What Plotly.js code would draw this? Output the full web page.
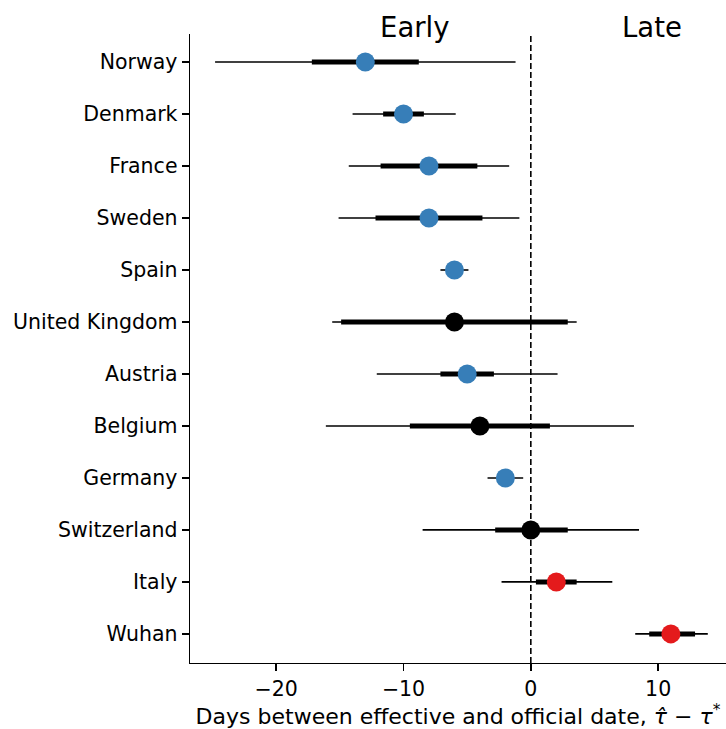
<!DOCTYPE html>
<html>
<head>
<meta charset="utf-8">
<script src="https://cdn.plot.ly/plotly-3.0.1.min.js"></script>
<style>html,body{margin:0;padding:0;background:#fff;}#chart{width:726px;height:729px;}</style>
</head>
<body>
<div id="chart"></div>
<script>
const countries = ['Norway','Denmark','France','Sweden','Spain','United Kingdom','Austria','Belgium','Germany','Switzerland','Italy','Wuhan'];
const median = [-13.0, -10.0, -8.0, -8.0, -6.0, -6.0, -5.0, -4.0, -2.0, 0.0, 2.0, 11.0];
const lo95 = [-24.8, -14.0, -14.3, -15.1, -7.1, -15.6, -12.1, -16.1, -3.4, -8.5, -2.3, 8.2];
const hi95 = [-1.2, -5.9, -1.7, -0.9, -4.9, 3.6, 2.1, 8.1, -0.6, 8.5, 6.4, 13.9];
const lo50 = [-17.2, -11.6, -11.8, -12.2, -6.6, -14.9, -7.1, -9.5, -2.6, -2.8, 0.4, 9.3];
const hi50 = [-8.8, -8.4, -4.2, -3.8, -5.4, 2.9, -2.9, 1.5, -1.4, 2.9, 3.6, 12.9];
const groups = ['early','early','early','early','early','unsure','early','unsure','early','unsure','late','late'];
const groupColors = {early:'#377eb8', unsure:'#000000', late:'#e41a1c'};
const xTicks = [-20, -10, 0, 10];
const xTickText = ['\u221220', '\u221210', '0', '10'];

function segments(lo, hi) {
  const xs = [], ys = [];
  countries.forEach((c, i) => { xs.push(lo[i], hi[i], null); ys.push(c, c, null); });
  return {xs, ys};
}
const thin = segments(lo95, hi95);
const thick = segments(lo50, hi50);
const font = 'DejaVu Sans, Verdana, sans-serif';

const traces = [
  {type:'scatter', mode:'lines', x:thin.xs, y:thin.ys, line:{color:'#000', width:1.6}, hoverinfo:'skip', showlegend:false, connectgaps:false},
  {type:'scatter', mode:'lines', x:thick.xs, y:thick.ys, line:{color:'#000', width:5}, hoverinfo:'skip', showlegend:false, connectgaps:false},
  {type:'scatter', mode:'markers', x:median, y:countries,
   marker:{size:19, color:groups.map(g => groupColors[g]), line:{width:0}}, showlegend:false}
];

const layout = {
  width:726, height:729,
  margin:{l:190, r:0, t:34, b:66},
  paper_bgcolor:'#fff', plot_bgcolor:'#fff',
  font:{family:font, size:20.5, color:'#000'},
  showlegend:false,
  xaxis:{
    range:[-26.77, 15.33], tickvals:xTicks, ticktext:xTickText,
    showgrid:false, zeroline:false, showline:true, linecolor:'#000', linewidth:1.4,
    ticks:'outside', ticklen:7, tickwidth:1.4, tickcolor:'#000',
    tickfont:{family:font, size:20.5, color:'#000'},
    title:{text:'Days between effective and official date, <i>\u03c4\u0302</i> \u2212 <i>\u03c4</i><sup>*</sup>', font:{family:font, size:22, color:'#000'}, standoff:5}
  },
  yaxis:{
    type:'category', categoryarray:countries, range:[11.56, -0.54],
    showgrid:false, zeroline:false, showline:true, linecolor:'#000', linewidth:1.4,
    ticks:'outside', ticklen:7, tickwidth:1.4, tickcolor:'#000',
    tickfont:{family:font, size:20.5, color:'#000'}
  },
  shapes:[{type:'line', xref:'x', yref:'paper', x0:0, x1:0, y0:0, y1:1, line:{color:'#000', width:1.6, dash:'6px,3px'}, layer:'above'}],
  annotations:[
    {text:'Early', xref:'x', yref:'paper', x:-9.17, y:1.0118, xanchor:'center', yanchor:'middle', showarrow:false, font:{family:font, size:27.5, color:'#000'}},
    {text:'Late', xref:'x', yref:'paper', x:9.52, y:1.0118, xanchor:'center', yanchor:'middle', showarrow:false, font:{family:font, size:27.5, color:'#000'}}
  ]
};

Plotly.newPlot('chart', traces, layout, {displayModeBar:false, staticPlot:true});
</script>
</body>
</html>
